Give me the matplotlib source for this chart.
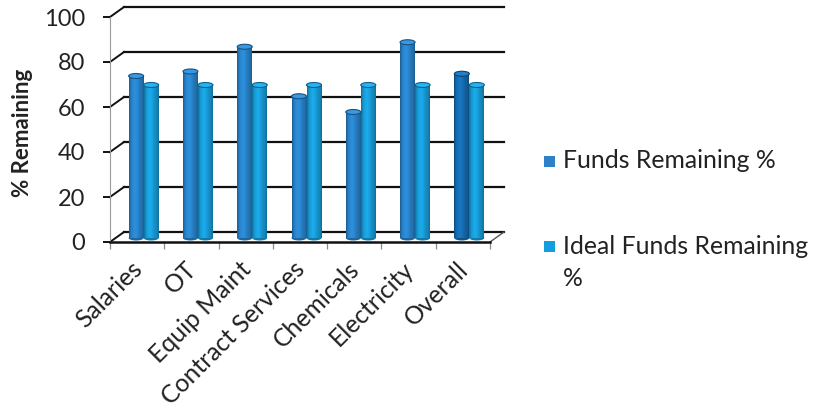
import numpy as np
import matplotlib
matplotlib.use('Agg')
import matplotlib.pyplot as plt
import matplotlib.transforms as mtransforms
from matplotlib.patches import Ellipse, Rectangle
from matplotlib.colors import to_rgb

plt.rcParams['font.family'] = ['Lato', 'DejaVu Sans']

categories = ['Salaries', 'OT', 'Equip Maint', 'Contract Services',
              'Chemicals', 'Electricity', 'Overall']
funds_remaining = [72, 74, 85, 63, 56, 87, 73]
ideal_remaining = [68, 68, 68, 68, 68, 68, 68]
series_names = ['Funds Remaining %', 'Ideal Funds Remaining\n%']
yticks = [0, 20, 40, 60, 80, 100]

funds_color = '#2a88d2'
overall_color = '#1770b8'
ideal_color = '#19a2e0'
text_color = '#222222'

W, H, DPI = 815, 413, 100
fig = plt.figure(figsize=(W / DPI, H / DPI), dpi=DPI)
# front plane of the 3d box, in pixels
left, right, top, bottom = 110, 490, 17, 242
ax = fig.add_axes([left / W, (H - bottom) / H, (right - left) / W, (bottom - top) / H])
n = len(categories)
ax.set_xlim(0, n)
ax.set_ylim(0, 100)

# depth offsets (pixels) for the back wall and the plane the bars sit in
px_x = (right - left) / n
px_y = (bottom - top) / 100
back_dx, back_dy = 14 / px_x, 10 / px_y
bar_off = mtransforms.ScaledTranslation(6.5 / DPI, 4 / DPI, fig.dpi_scale_trans)
bar_trans = ax.transData + bar_off

# back wall gridlines with the diagonals joining the front axis
for v in yticks:
    ax.plot([back_dx, n + back_dx], [v + back_dy, v + back_dy], color='#111111',
            lw=1.6, clip_on=False, zorder=1)
    ax.plot([0, back_dx], [v, v + back_dy], color='#111111', lw=1.4,
            clip_on=False, zorder=1)
ax.plot([n, n + back_dx], [0, back_dy], color='#555555', lw=1.0, clip_on=False, zorder=1)


def shade(color, t):
    # cylinder shading across the bar width
    c = np.array(to_rgb(color))
    k = 0.8 + 0.25 * np.exp(-((t - 0.4) / 0.3) ** 2)
    k[t < 0.08] *= 0.85
    k[t > 0.92] *= 0.88
    return np.clip(c[None, :] * k[:, None], 0, 1)


def cylinders(xs, vals, colors, w):
    bars = ax.bar(xs, vals, width=w, color=colors, linewidth=0, zorder=2)
    t = np.linspace(0, 1, 64)
    cap_h = 5 / px_y
    for rect, col in zip(bars, colors):
        rect.set_transform(bar_trans)
        x0, h = rect.get_x(), rect.get_height()
        grad = shade(col, t)[np.newaxis, :, :]
        im = ax.imshow(grad, extent=(x0, x0 + w, 0, h), aspect='auto',
                       interpolation='bilinear', zorder=2.1)
        im.set_transform(bar_trans)
        im.set_clip_path(rect)
        c = np.array(to_rgb(col))
        ax.add_patch(Ellipse((x0 + w / 2, 0), w, cap_h, facecolor=c * 0.75,
                             edgecolor='none', transform=bar_trans, zorder=1.9))
        ax.add_patch(Ellipse((x0 + w / 2, h), w, cap_h,
                             facecolor=np.clip(c * 1.05 + 0.04, 0, 1),
                             edgecolor=c * 0.6, lw=0.8, transform=bar_trans, zorder=2.2))
    return bars


w = 15 / px_x
x = np.arange(n) + 0.5
f_colors = [funds_color] * (n - 1) + [overall_color]
cylinders(x - w / 2, funds_remaining, f_colors, w)
cylinders(x + w / 2, ideal_remaining, [ideal_color] * n, w)
ax.set_xlim(0, n)
ax.set_ylim(0, 100)

# axes styling
for s in ['top', 'right']:
    ax.spines[s].set_visible(False)
ax.spines['left'].set_color('#9a9a9a')
ax.spines['left'].set_linewidth(0.8)
ax.spines['bottom'].set_color('#111111')
ax.spines['bottom'].set_linewidth(1.8)
ax.spines['bottom'].set_zorder(3)

ax.set_yticks(yticks)
ax.tick_params(axis='y', length=5, width=1.4, color='#111111', pad=13,
               labelsize=17, labelcolor=text_color)
ax.set_xticks(np.arange(n + 1))
# rotated labels end a little left of the category centre
ax.set_xticks(x - 7 / px_x, minor=True)
ax.set_xticklabels([])
ax.set_xticklabels(categories, minor=True, rotation=45, ha='right', va='top',
                   rotation_mode='anchor', fontsize=17.8, color=text_color)
ax.tick_params(axis='x', which='major', length=5, width=0.9, color='#8a8a8a')
ax.tick_params(axis='x', which='minor', length=0, pad=11)

ax.set_ylabel('% Remaining', fontsize=16, fontweight='bold', color=text_color)
ax.yaxis.set_label_coords((33 - left) / (right - left), (bottom - 133) / (bottom - top))

# legend
leg_colors = ['#2e80c8', '#149ee0']
leg_y = [161, 246]
for name, col, yy in zip(series_names, leg_colors, leg_y):
    fig.add_artist(Rectangle((544 / W, (H - yy - 5.5) / H), 11 / W, 11 / H,
                             facecolor=col, edgecolor='none', transform=fig.transFigure))
    first, *rest = name.split('\n')
    fig.text(563 / W, (H - yy) / H, first, fontsize=17.8, color=text_color,
             va='center', ha='left')
    for k, line in enumerate(rest):
        fig.text(563 / W, (H - yy - 32 * (k + 1)) / H, line, fontsize=17.8,
                 color=text_color, va='center', ha='left')

fig.savefig('out.png', dpi=DPI)
